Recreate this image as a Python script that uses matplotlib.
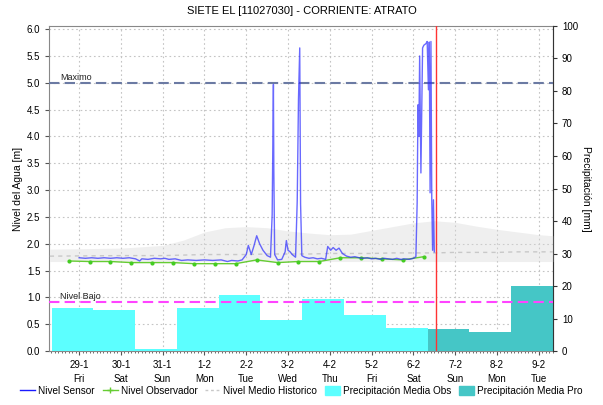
import matplotlib
matplotlib.use("Agg")
import matplotlib.pyplot as plt
from matplotlib.lines import Line2D
from matplotlib.patches import Patch
from matplotlib.ticker import MultipleLocator

plt.rcParams["font.family"] = ["Liberation Sans", "DejaVu Sans"]

# x is in days, 0 = tick "29-1"
day_labels = ["29-1\nFri", "30-1\nSat", "31-1\nSun", "1-2\nMon", "2-2\nTue", "3-2\nWed",
              "4-2\nThu", "5-2\nFri", "6-2\nSat", "7-2\nSun", "8-2\nMon", "9-2\nTue"]

sensor_t = [0.00, 0.15, 0.30, 0.45, 0.60, 0.75, 0.90, 1.05, 1.20, 1.35, 1.45, 1.50,
            1.65, 1.80, 1.95, 2.05, 2.15, 2.30, 2.45, 2.60, 2.80, 3.00, 3.20, 3.40,
            3.55, 3.65, 3.80, 3.90, 4.00, 4.05, 4.12, 4.18, 4.25, 4.32, 4.40, 4.50,
            4.58, 4.62, 4.64, 4.65, 4.66, 4.68, 4.75, 4.85, 4.93, 4.96, 5.00, 5.05,
            5.10, 5.18, 5.22, 5.25, 5.28, 5.30, 5.33, 5.40, 5.50, 5.60, 5.70, 5.80,
            5.90, 5.95, 6.02, 6.08, 6.15, 6.22, 6.30, 6.40, 6.50, 6.60, 6.70, 6.80,
            6.90, 7.00, 7.10, 7.20, 7.30, 7.40, 7.50, 7.60, 7.70, 7.80, 7.90, 8.00,
            8.06, 8.09, 8.11, 8.13, 8.15, 8.18, 8.22, 8.25, 8.30, 8.33, 8.36, 8.38,
            8.40, 8.42, 8.44, 8.46, 8.48, 8.50]
sensor_v = [1.74, 1.73, 1.74, 1.73, 1.74, 1.73, 1.74, 1.73, 1.74, 1.72, 1.68, 1.72,
            1.71, 1.73, 1.72, 1.73, 1.71, 1.72, 1.69, 1.70, 1.69, 1.70, 1.69, 1.70,
            1.67, 1.69, 1.68, 1.70, 1.80, 1.97, 1.80, 1.95, 2.15, 2.00, 1.88, 1.78,
            1.75, 2.54, 4.15, 4.97, 3.35, 1.80, 1.70, 1.71, 1.85, 2.06, 1.88, 1.85,
            1.80, 1.75, 2.80, 4.70, 5.65, 2.75, 1.78, 1.75, 1.73, 1.74, 1.72, 1.73,
            1.71, 1.95, 1.88, 1.93, 1.88, 1.92, 1.82, 1.77, 1.75, 1.76, 1.74, 1.73,
            1.74, 1.72, 1.73, 1.71, 1.73, 1.72, 1.71, 1.73, 1.71, 1.72, 1.71, 1.73,
            1.76, 2.76, 4.59, 4.00, 5.50, 3.32, 5.65, 5.70, 5.73, 5.77, 4.87, 5.76,
            2.95, 5.77, 2.82, 1.88, 2.82, 1.85]

obs_t = [-0.25, 0.25, 0.75, 1.25, 1.75, 2.25, 2.75, 3.25, 3.75, 4.25, 4.75, 5.25,
         5.75, 6.25, 6.75, 7.25, 7.75, 8.25]
obs_v = [1.68, 1.67, 1.67, 1.65, 1.65, 1.65, 1.63, 1.63, 1.63, 1.70, 1.65, 1.67,
         1.67, 1.74, 1.74, 1.72, 1.70, 1.76]

hist_t = [-0.7, 1.0, 2.0, 2.5, 3.0, 3.5, 4.0, 4.5, 5.0, 5.5, 6.0, 6.5, 7.0, 7.5,
          8.0, 8.5, 9.0, 9.5, 10.0, 10.5, 11.0, 11.34]
hist_low = [1.67] * len(hist_t)
hist_high = [1.90, 1.92, 1.97, 2.07, 2.22, 2.30, 2.32, 2.30, 2.24, 2.20, 2.17, 2.18,
             2.25, 2.32, 2.39, 2.43, 2.40, 2.33, 2.27, 2.22, 2.17, 2.15]
hist_mean = [1.77, 1.78, 1.78, 1.79, 1.80, 1.80, 1.80, 1.81, 1.81, 1.81, 1.82, 1.82,
             1.82, 1.83, 1.83, 1.83, 1.84, 1.84, 1.84, 1.85, 1.85, 1.85]

precip_obs = [13.3, 12.7, 0.6, 13.3, 17.3, 9.6, 16.0, 11.1, 7.2]
precip_pro = [6.9, 5.9, 19.9]

nivel_maximo = 5.0
nivel_bajo = 0.92
now_t = 8.54

fig = plt.figure(figsize=(6.03, 4.05), dpi=100)
ax = fig.add_axes([0.082, 0.133, 0.835, 0.803])
axp = ax.twinx()
axl = ax.twinx()

# grid / left scale
ax.set_xlim(-0.71, 11.34)
ax.set_ylim(0, 6.06)
ax.yaxis.set_major_locator(MultipleLocator(0.5))
ax.yaxis.set_major_formatter("{x:.1f}")
ax.set_xticks(range(len(day_labels)))
ax.set_xticklabels(day_labels, linespacing=1.5)
ax.xaxis.set_minor_locator(MultipleLocator(1 / 12))
ax.grid(True, color="#c4c4c4", linestyle=(0, (1.5, 2.5)), linewidth=0.8)
ax.tick_params(labelsize=7, length=3, color="#555555")
ax.tick_params(axis="x", which="minor", length=1.5, color="#555555")
ax.set_ylabel("Nivel del Agua [m]", fontsize=7.5, labelpad=3)
for s in ax.spines.values():
    s.set_color("#888888")

# precipitation bars
n_obs = len(precip_obs)
obs_x = [k - 0.16 for k in range(n_obs)]
pro_x = [k - 0.16 for k in range(n_obs, n_obs + len(precip_pro))]
axp.bar(obs_x, precip_obs, width=1.0, color="#5cffff", linewidth=0)
axp.bar(pro_x, precip_pro, width=1.0, color="#45c6c6", linewidth=0)
axp.set_ylim(0, 100)
axp.yaxis.set_major_locator(MultipleLocator(10))
axp.tick_params(labelsize=7, length=3, color="#333333")
axp.set_ylabel("Precipitación [mm]", fontsize=7.5, rotation=270, labelpad=9)
for s in axp.spines.values():
    s.set_visible(False)
axp.spines["right"].set_visible(True)
axp.spines["right"].set_color("#333333")

# level lines
axl.set_ylim(ax.get_ylim())
axl.set_yticks([])
for s in axl.spines.values():
    s.set_visible(False)
axl.fill_between(hist_t, hist_low, hist_high, color="#d8d8d8", alpha=0.4, linewidth=0)
axl.plot(hist_t, hist_mean, color="#c8c8c8", linestyle=(0, (3, 3)), linewidth=1)
axl.axhline(nivel_maximo, color="#6b7aa3", linestyle=(0, (5, 2.5)), linewidth=1.5)
axl.axhline(nivel_bajo, color="#ff44ff", linestyle=(0, (5, 2.5)), linewidth=1.5)
axl.text(-0.45, nivel_maximo + 0.05, "Maximo", fontsize=6.5, color="#222222")
axl.text(-0.45, nivel_bajo + 0.05, "Nivel Bajo", fontsize=6.5, color="#222222")
axl.plot(obs_t, obs_v, color="#66cc33", linewidth=1, marker="o", markersize=3,
         markerfacecolor="#44cc22", markeredgewidth=0)
axl.plot(sensor_t, sensor_v, color="#2a2aff", alpha=0.7, linewidth=1)
axl.axvline(now_t, color="#ff3333", linewidth=1)

fig.suptitle("SIETE EL [11027030] - CORRIENTE: ATRATO", fontsize=8, y=0.985)

handles = [
    Line2D([], [], color="#1a1aff", linewidth=1),
    Line2D([], [], color="#66cc33", linewidth=1, marker="+", markersize=4),
    Line2D([], [], color="#c8c8c8", linestyle=(0, (2, 2)), linewidth=1),
    Patch(color="#5cffff"),
    Patch(color="#45c6c6"),
]
labels = ["Nivel Sensor", "Nivel Observador", "Nivel Medio Historico",
          "Precipitación Media Obs", "Precipitación Media Pro"]
fig.legend(handles, labels, loc="lower center", bbox_to_anchor=(0.5, 0.0), ncol=5,
           frameon=False, fontsize=7.2, handlelength=1.5, handletextpad=0.3,
           columnspacing=0.8, handleheight=0.9)

fig.savefig("out.png", dpi=100)
